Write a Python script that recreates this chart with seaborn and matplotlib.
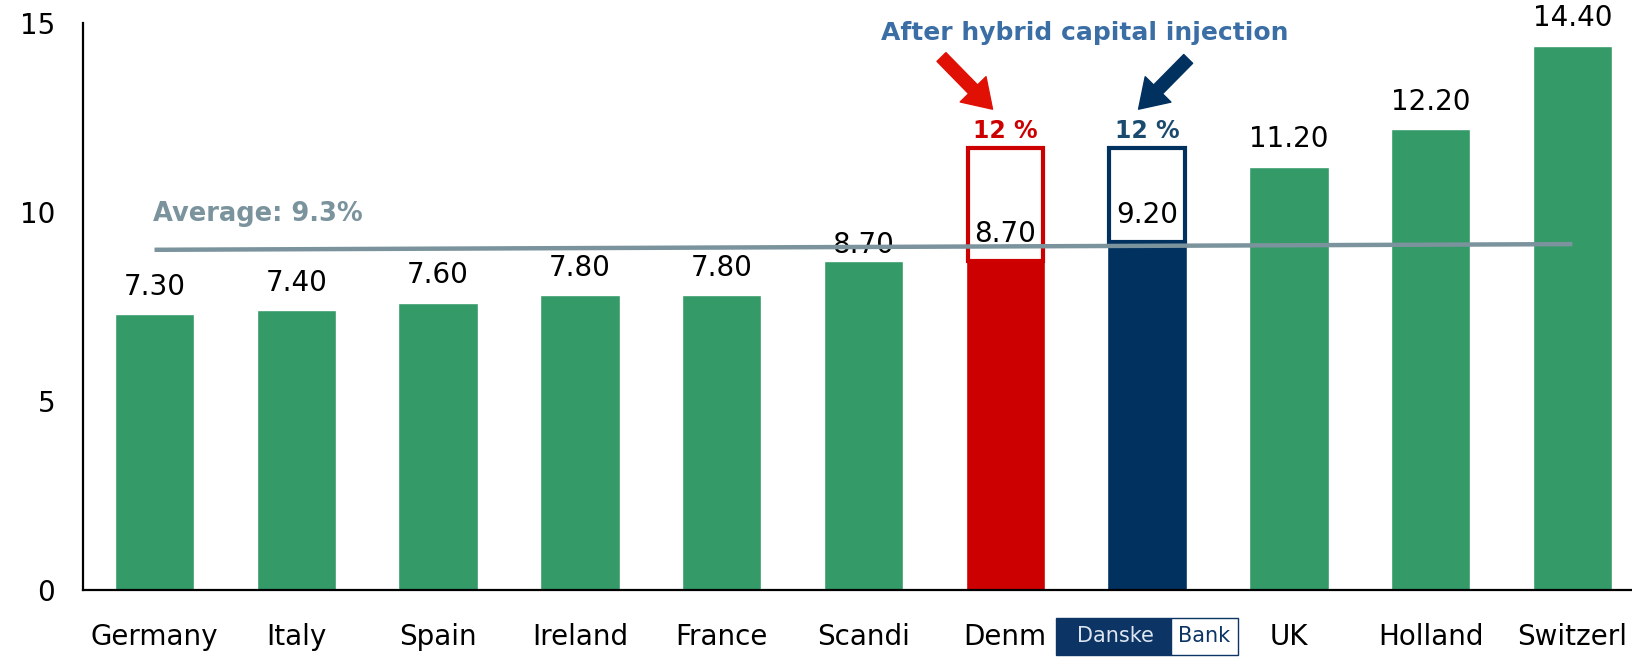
import matplotlib
matplotlib.use("Agg")
import matplotlib.pyplot as plt
import seaborn as sns
import pandas as pd
from matplotlib.patches import Rectangle

sns.set_theme(style="white")
plt.rcParams['font.family'] = ['DejaVu Sans']

# chart data
countries = ["Germany", "Italy", "Spain", "Ireland", "France", "Scandi",
             "Denm", "Danske Bank", "UK", "Holland", "Switzerl"]
ratios = [7.3, 7.4, 7.6, 7.8, 7.8, 8.7, 8.7, 9.2, 11.2, 12.2, 14.4]
after_hybrid = 11.7          # top of the outlined boxes (Denm, Danske Bank)
after_label = "12 %"
avg_line = [9.0, 9.15]       # drawn average line, first and last bar
avg_text = "Average: 9.3%"

GREEN = "#349a68"
RED = "#cc0000"
NAVY = "#00315f"
GREY = "#7a939c"
colors = [GREEN] * 6 + [RED, NAVY] + [GREEN] * 3

df = pd.DataFrame({"country": countries, "ratio": ratios})

fig = plt.figure(figsize=(16.32, 6.57), dpi=100)
ax = fig.add_axes([0.0509, 0.102, 0.9491, 0.863])

sns.barplot(data=df, x="country", y="ratio", hue="country", palette=colors,
            width=0.56, legend=False, saturation=1, ax=ax)

# outlined "after hybrid capital injection" boxes
for i, c in [(6, RED), (7, NAVY)]:
    ax.bar(i, after_hybrid - ratios[i], bottom=ratios[i], width=0.53,
           fill=False, edgecolor=c, linewidth=3, zorder=3)
    ax.text(i, after_hybrid + 0.44, after_label, ha="center", va="center",
            fontsize=17, fontweight="bold",
            color=RED if c == RED else "#1a4a6e", zorder=4)

# value labels
for i, v in enumerate(ratios):
    off = 0.42 if countries[i] == "Scandi" else 0.72
    ax.text(i, v + off, f"{v:.2f}", ha="center", va="center",
            fontsize=20, color="black", zorder=2)

# average line
ax.plot([0, len(ratios) - 1], avg_line, color=GREY, linewidth=3.2, zorder=5,
        solid_capstyle="butt")
ax.text(-0.01, 9.95, avg_text, ha="left", va="center", fontsize=18.5,
        fontweight="bold", color=GREY)

# arrows and heading
ax.text(6.56, 14.74, "After hybrid capital injection", ha="center",
        va="center", fontsize=18, fontweight="bold", color="#3a6ea5")
astyle = "simple,head_width=1.3,head_length=1.0,tail_width=0.45"
ax.annotate("", xy=(5.91, 12.72), xytext=(5.55, 14.1),
            arrowprops=dict(arrowstyle=astyle, color="#e01005",
                            mutation_scale=20, shrinkA=0, shrinkB=0))
ax.annotate("", xy=(6.94, 12.72), xytext=(7.29, 14.05),
            arrowprops=dict(arrowstyle=astyle, color=NAVY,
                            mutation_scale=20, shrinkA=0, shrinkB=0))

ax.set_xlim(-0.504, 10.42)
ax.set_ylim(0, 15)
ax.set_yticks([0, 5, 10, 15])
ax.set_xlabel("")
ax.set_ylabel("")
ax.tick_params(axis="y", length=0, pad=20, labelsize=20, labelcolor="black")
ax.tick_params(axis="x", length=0, pad=24, labelsize=20, labelcolor="black")

labels = list(countries)
labels[7] = ""
ax.set_xticks(range(len(countries)))
ax.set_xticklabels(labels)

# Danske Bank logo in place of the tick label
ax.add_patch(Rectangle((7 - 0.643, -1.72), 0.811, 0.98, facecolor="#0c3565",
                       edgecolor="#0c3565", clip_on=False))
ax.add_patch(Rectangle((7.168, -1.72), 0.473, 0.98, facecolor="white",
                       edgecolor="#0c3565", linewidth=1, clip_on=False))
ax.text(6.78, -1.23, "Danske", ha="center", va="center", fontsize=15,
        color="#dde6f0", clip_on=False)
ax.text(7.405, -1.23, "Bank", ha="center", va="center", fontsize=15,
        color="#0c3565", clip_on=False)

for s in ["top", "right"]:
    ax.spines[s].set_visible(False)
for s in ["left", "bottom"]:
    ax.spines[s].set_color("black")
    ax.spines[s].set_linewidth(1.6)

fig.savefig("out.png", dpi=100)
